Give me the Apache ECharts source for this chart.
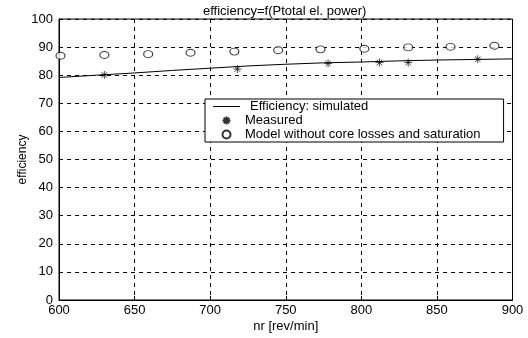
<!DOCTYPE html>
<html>
<head>
<meta charset="utf-8">
<script src="https://cdn.jsdelivr.net/npm/echarts@6/dist/echarts.min.js"></script>
<style>
html,body{margin:0;padding:0;background:#fff;}
#c{width:528px;height:338px;}
</style>
</head>
<body>
<div id="c"></div>
<script>
// Simulated efficiency curve
const nrSim = [600, 625, 650, 675, 700, 725, 750, 775, 800, 825, 850, 875, 900];
const effSim = [79.2, 80.0, 80.8, 81.7, 82.5, 83.3, 83.9, 84.4, 84.7, 85.1, 85.4, 85.6, 85.8];
// Measured points
const nrMeas = [630, 718, 778, 812, 831, 877];
const effMeas = [80.1, 82.2, 84.2, 84.5, 84.5, 85.7];
// Model without core losses and saturation
const nrModel = [601, 630, 659, 687, 716, 745, 773, 802, 831, 859, 888];
const effModel = [86.9, 87.2, 87.5, 88.0, 88.4, 88.9, 89.2, 89.4, 89.9, 90.1, 90.5];
const xTicks = [600, 650, 700, 750, 800, 850, 900];
const yTicks = [0, 10, 20, 30, 40, 50, 60, 70, 80, 90, 100];

const FONT = '"Liberation Sans", Arial, Helvetica, sans-serif';
const starPath = 'path://M5,0L5,10M0,5L10,5M1.5,1.5L8.5,8.5M1.5,8.5L8.5,1.5';
const lineIcon = 'path://M0,0L27,0L27,1L0,1Z';

const chart = echarts.init(document.getElementById('c'), null, {renderer: 'canvas'});
chart.setOption({
  backgroundColor: '#fff',
  animation: false,
  textStyle: {fontFamily: FONT, color: '#000'},
  title: {
    text: 'efficiency=f(Ptotal el. power)',
    left: 198, top: 0,
    textStyle: {fontFamily: FONT, fontSize: 13, fontWeight: 'normal', color: '#000'}
  },
  grid: {
    left: 59, right: 15.5, top: 19, bottom: 38,
    show: true, borderColor: '#000', borderWidth: 1, backgroundColor: '#fff'
  },
  xAxis: {
    type: 'value', min: xTicks[0], max: xTicks[xTicks.length - 1], interval: 50,
    name: 'nr [rev/min]', nameLocation: 'middle', nameGap: 20, nameMoveOverlap: false,
    nameTextStyle: {fontFamily: FONT, fontSize: 13, color: '#000'},
    axisLine: {show: true, lineStyle: {color: '#000', width: 1}},
    axisTick: {show: true, inside: true, length: 4, lineStyle: {color: '#000'}},
    axisLabel: {fontFamily: FONT, fontSize: 13, color: '#000', margin: 4},
    splitLine: {show: true, lineStyle: {color: '#000', width: 1, type: [4, 4]}}
  },
  yAxis: {
    type: 'value', min: yTicks[0], max: yTicks[yTicks.length - 1], interval: 10,
    name: 'efficiency', nameLocation: 'middle', nameGap: 30, nameMoveOverlap: false,
    nameTextStyle: {fontFamily: FONT, fontSize: 12, color: '#000'},
    axisLine: {show: true, lineStyle: {color: '#000', width: 1}},
    axisTick: {show: true, inside: true, length: 4, lineStyle: {color: '#000'}},
    axisLabel: {fontFamily: FONT, fontSize: 13, color: '#000', margin: 6},
    splitLine: {show: true, lineStyle: {color: '#000', width: 1, type: [4, 4]}}
  },
  legend: {
    orient: 'vertical',
    left: 205, top: 99,
    padding: [1, 23, 1, 8],
    itemWidth: 27, itemHeight: 8, itemGap: 1,
    backgroundColor: '#fff', borderColor: '#000', borderWidth: 1, borderRadius: 0,
    textStyle: {fontFamily: FONT, fontSize: 13, color: '#000', lineHeight: 13},
    data: [
      {name: 'Efficiency: simulated', icon: lineIcon, itemStyle: {color: '#000'}, textStyle: {padding: [0, 0, 0, 5]}},
      {name: 'Measured'},
      {name: 'Model without core losses and saturation'}
    ]
  },
  series: [
    {
      name: 'Efficiency: simulated', type: 'line',
      data: nrSim.map((x, i) => [x, effSim[i]]),
      symbol: 'none', smooth: false,
      lineStyle: {color: '#000', width: 1},
      itemStyle: {color: '#000'}
    },
    {
      name: 'Measured', type: 'scatter',
      data: nrMeas.map((x, i) => [x, effMeas[i]]),
      symbol: starPath, symbolSize: 8,
      itemStyle: {color: '#000', borderColor: '#000', borderWidth: 0.9}
    },
    {
      name: 'Model without core losses and saturation', type: 'scatter',
      data: nrModel.map((x, i) => [x, effModel[i]]),
      symbol: 'circle', symbolSize: [9, 7],
      itemStyle: {color: '#fff', borderColor: '#000', borderWidth: 1}
    }
  ]
});
</script>
</body>
</html>
